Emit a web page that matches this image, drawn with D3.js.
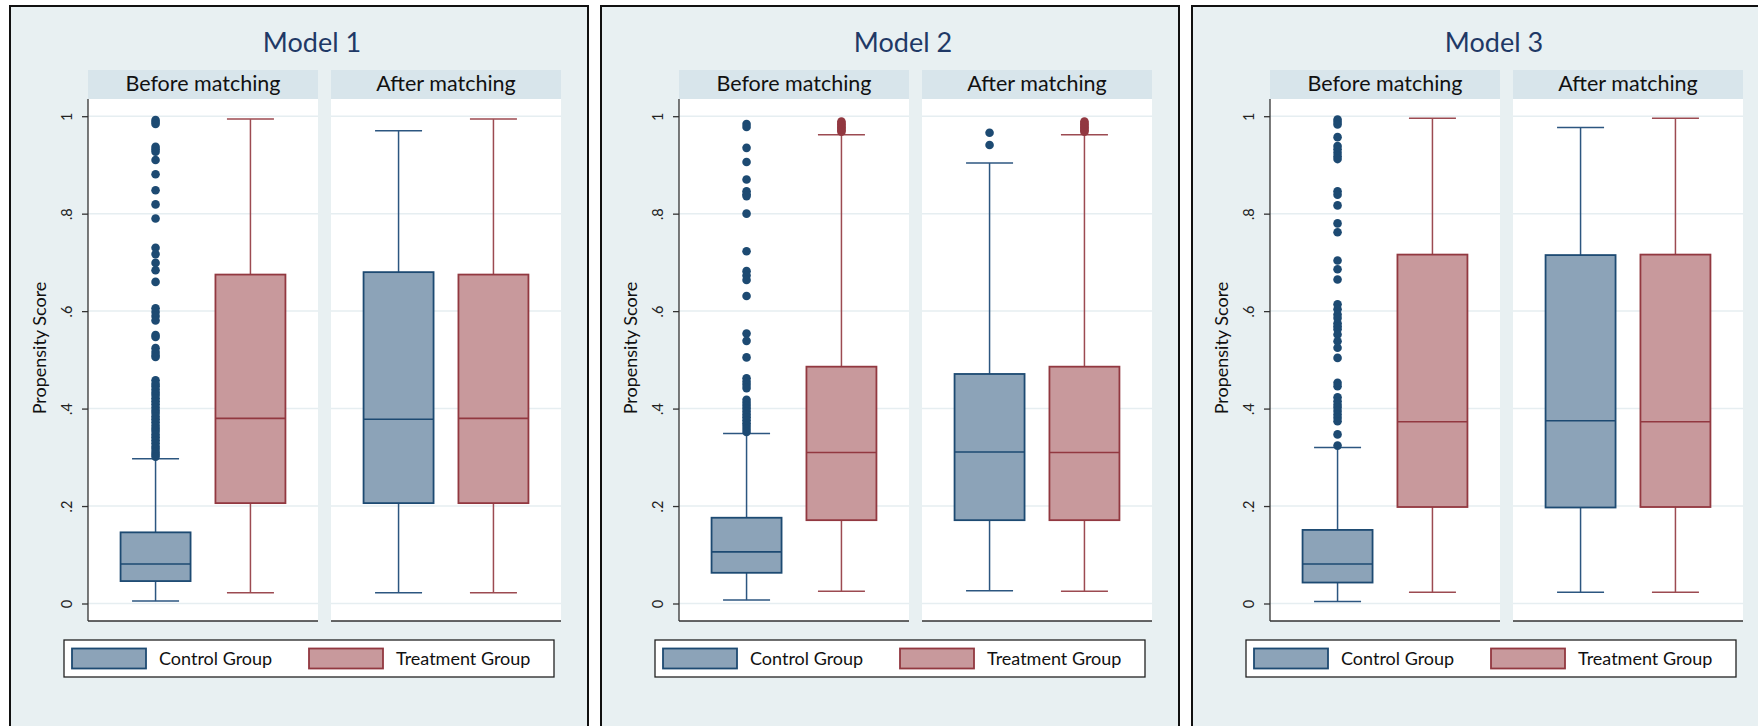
<!DOCTYPE html>
<html>
<head>
<meta charset="utf-8">
<script src="https://cdn.jsdelivr.net/npm/d3@7"></script>
<style>
  html, body { margin: 0; padding: 0; background: #ffffff; }
  svg { display: block; font-family: Lato, "Open Sans", sans-serif; }
</style>
</head>
<body>
<svg id="chart" width="1758" height="726"></svg>
<script>
// ---- data ---------------------------------------------------------------
const models = ["Model 1", "Model 2", "Model 3"];
const phases = ["Before matching", "After matching"];
const groups = ["Control Group", "Treatment Group"];
const yTicks = [0, 0.2, 0.4, 0.6, 0.8, 1];
const yTickLabels = ["0", ".2", ".4", ".6", ".8", "1"];
const yTitle = "Propensity Score";

// box summaries: [lower whisker, q1, median, q3, upper whisker], indexed [model][phase]
const controlStats = [
  [[0.005, 0.046, 0.081, 0.146, 0.297], [0.022, 0.206, 0.378, 0.680, 0.970]],
  [[0.007, 0.063, 0.106, 0.176, 0.349], [0.026, 0.171, 0.311, 0.471, 0.904]],
  [[0.004, 0.043, 0.081, 0.151, 0.320], [0.023, 0.197, 0.375, 0.715, 0.977]]
];
const treatmentStats = [
  [[0.022, 0.206, 0.380, 0.675, 0.994], [0.022, 0.206, 0.380, 0.675, 0.994]],
  [[0.025, 0.171, 0.310, 0.486, 0.962], [0.025, 0.171, 0.310, 0.486, 0.962]],
  [[0.023, 0.198, 0.373, 0.716, 0.996], [0.023, 0.198, 0.373, 0.716, 0.996]]
];

// values beyond the whiskers, indexed [model][phase]
const controlOutliers = [
  [[0.992, 0.988, 0.984, 0.937, 0.932, 0.927, 0.910, 0.881, 0.848, 0.819, 0.790,
    0.730, 0.717, 0.699, 0.684, 0.660, 0.606, 0.598, 0.590, 0.581, 0.551, 0.547,
    0.524, 0.516, 0.510, 0.506, 0.458, 0.451, 0.446, 0.439, 0.433, 0.428, 0.421,
    0.415, 0.409, 0.402, 0.396, 0.391, 0.384, 0.378, 0.372, 0.365, 0.359, 0.354,
    0.347, 0.341, 0.335, 0.329, 0.322, 0.317, 0.311, 0.306, 0.301], []],
  [[0.984, 0.978, 0.935, 0.906, 0.870, 0.846, 0.840, 0.836, 0.800, 0.723, 0.682,
    0.673, 0.664, 0.631, 0.554, 0.539, 0.505, 0.462, 0.455, 0.449, 0.442, 0.418,
    0.412, 0.406, 0.400, 0.394, 0.388, 0.382, 0.376, 0.370, 0.364, 0.358, 0.352], [0.966, 0.941]],
  [[0.993, 0.988, 0.983, 0.957, 0.939, 0.932, 0.925, 0.918, 0.912, 0.846, 0.839,
    0.817, 0.780, 0.762, 0.704, 0.686, 0.665, 0.614, 0.604, 0.593, 0.586, 0.575,
    0.569, 0.563, 0.552, 0.538, 0.525, 0.504, 0.453, 0.446, 0.423, 0.415, 0.408,
    0.402, 0.395, 0.388, 0.381, 0.374, 0.347, 0.324], []]
];
const treatmentOutliers = [
  [[], []],
  [[0.968, 0.971, 0.974, 0.977, 0.980, 0.983, 0.986, 0.989],
   [0.968, 0.971, 0.974, 0.977, 0.980, 0.983, 0.986, 0.989]],
  [[], []]
];

// ---- styling ------------------------------------------------------------
const palette = {
  "Control Group":   { stroke: "#1d4a72", whisker: "#2c5680", fill: "#8ca3b8" },
  "Treatment Group": { stroke: "#923840", whisker: "#9c4a51", fill: "#c8999c" }
};
const regionBg = "#e8f0f2";
const stripBg = "#d8e5eb";
const gridColor = "#e6eef1";

const panelLefts = [10, 601, 1192];
const panelTop = 6, panelW = 578;
const axisOffset = 78, subW = 230, subStep = 243;
const stripTop = 70, plotTop = 99, plotBottom = 621;

const y = d3.scaleLinear().domain([0, 1]).range([603.5, 116.2]);
const x = d3.scalePoint().domain(groups).range([0, subW]).padding(0.712);
const boxW = 70, capW = 47, dotR = 4.3;

const svg = d3.select("#chart");

models.forEach((model, m) => {
  const L = panelLefts[m];
  const g = svg.append("g");

  g.append("rect")
    .attr("x", L).attr("y", panelTop).attr("width", panelW).attr("height", 760)
    .attr("fill", regionBg).attr("stroke", "#111").attr("stroke-width", 2);

  g.append("text")
    .attr("x", L + 302).attr("y", 51.5).attr("text-anchor", "middle")
    .attr("font-size", 27).attr("fill", "#1f3966").text(model);

  phases.forEach((phase, p) => {
    const x0 = L + axisOffset + p * subStep;
    const sub = g.append("g").attr("transform", `translate(${x0},0)`);

    sub.append("rect").attr("x", 0).attr("y", stripTop)
      .attr("width", subW).attr("height", plotTop - stripTop).attr("fill", stripBg);
    sub.append("text").attr("x", subW / 2).attr("y", 90.5).attr("text-anchor", "middle")
      .attr("font-size", 21.5).attr("fill", "#111").text(phase);

    sub.append("rect").attr("x", 0).attr("y", plotTop)
      .attr("width", subW).attr("height", plotBottom - plotTop).attr("fill", "#fff");

    sub.selectAll("line.grid").data(yTicks).join("line").attr("class", "grid")
      .attr("x1", 0).attr("x2", subW)
      .attr("y1", d => y(d)).attr("y2", d => y(d))
      .attr("stroke", gridColor).attr("stroke-width", 1.5);

    sub.append("line").attr("x1", 0).attr("x2", subW)
      .attr("y1", plotBottom).attr("y2", plotBottom)
      .attr("stroke", "#333").attr("stroke-width", 1.3);

    if (p === 0) {
      const axis = d3.axisLeft(y).tickValues(yTicks)
        .tickFormat((d, i) => yTickLabels[i]).tickSize(6).tickSizeOuter(0);
      const ax = sub.append("g").call(axis);
      ax.select(".domain").remove();
      ax.selectAll(".tick line").attr("stroke", "#333").attr("stroke-width", 1.3);
      ax.selectAll(".tick text")
        .attr("x", null).attr("dy", null)
        .attr("text-anchor", "middle")
        .attr("transform", "translate(-16,0) rotate(-90)")
        .attr("font-family", "Lato, sans-serif")
        .attr("font-size", 14.5).attr("fill", "#222");
      sub.append("line").attr("x1", 0).attr("x2", 0)
        .attr("y1", plotTop).attr("y2", plotBottom)
        .attr("stroke", "#333").attr("stroke-width", 1.3);
    }

    groups.forEach((grp, k) => {
      const s = (k === 0 ? controlStats : treatmentStats)[m][p];
      const outs = (k === 0 ? controlOutliers : treatmentOutliers)[m][p];
      const c = palette[grp];
      const cx = x(grp);
      const bg = sub.append("g");

      // whiskers and caps
      bg.append("line").attr("x1", cx).attr("x2", cx)
        .attr("y1", y(s[3])).attr("y2", y(s[4]))
        .attr("stroke", c.whisker).attr("stroke-width", 1.5);
      bg.append("line").attr("x1", cx).attr("x2", cx)
        .attr("y1", y(s[1])).attr("y2", y(s[0]))
        .attr("stroke", c.whisker).attr("stroke-width", 1.5);
      [s[0], s[4]].forEach(v => {
        bg.append("line").attr("x1", cx - capW / 2).attr("x2", cx + capW / 2)
          .attr("y1", y(v)).attr("y2", y(v))
          .attr("stroke", c.whisker).attr("stroke-width", 1.5);
      });

      // box
      bg.append("rect").attr("x", cx - boxW / 2).attr("y", y(s[3]))
        .attr("width", boxW).attr("height", y(s[1]) - y(s[3]))
        .attr("fill", c.fill).attr("stroke", c.stroke).attr("stroke-width", 1.8);
      bg.append("line").attr("x1", cx - boxW / 2).attr("x2", cx + boxW / 2)
        .attr("y1", y(s[2])).attr("y2", y(s[2]))
        .attr("stroke", c.stroke).attr("stroke-width", 1.6);

      // outside values
      bg.selectAll("circle").data(outs).join("circle")
        .attr("cx", cx).attr("cy", d => y(d)).attr("r", dotR)
        .attr("fill", c.stroke);
    });
  });

  // y-axis title
  g.append("text")
    .attr("transform", `translate(${L + 36},348) rotate(-90)`)
    .attr("text-anchor", "middle").attr("font-size", 18).attr("fill", "#111")
    .text(yTitle);

  // legend
  const lg = g.append("g").attr("transform", `translate(${L + 54},640)`);
  lg.append("rect").attr("x", 0).attr("y", 0).attr("width", 490).attr("height", 37)
    .attr("fill", "#fff").attr("stroke", "#222").attr("stroke-width", 1.3);
  const keyX = [8, 245];
  groups.forEach((grp, k) => {
    const c = palette[grp];
    lg.append("rect").attr("x", keyX[k]).attr("y", 8.5).attr("width", 74).attr("height", 20)
      .attr("fill", c.fill).attr("stroke", c.stroke).attr("stroke-width", 1.8);
    lg.append("text").attr("x", keyX[k] + 87).attr("y", 24.5)
      .attr("font-size", 18).attr("fill", "#111").text(grp);
  });
});
</script>
</body>
</html>
